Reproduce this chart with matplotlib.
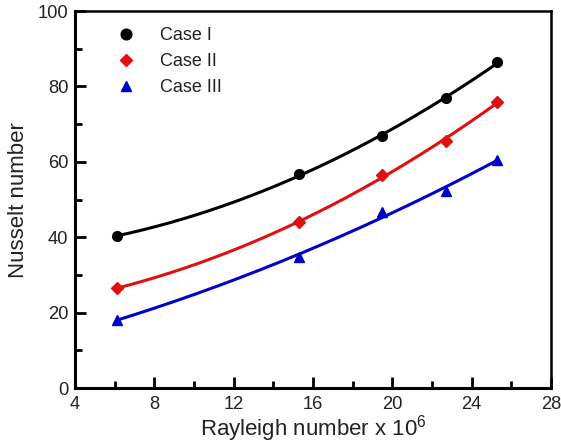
import numpy as np
import matplotlib
matplotlib.use("Agg")
import matplotlib.pyplot as plt
from matplotlib.ticker import MultipleLocator

plt.rcParams["font.family"] = ["Liberation Sans", "DejaVu Sans"]
plt.rcParams["mathtext.fontset"] = "custom"
plt.rcParams["mathtext.rm"] = "Liberation Sans"
plt.rcParams["mathtext.it"] = "Liberation Sans"

# Data (Rayleigh number x 10^6 vs Nusselt number)
rayleigh = [6.1, 15.3, 19.5, 22.7, 25.3]
case1 = [40.3, 56.7, 66.9, 77.0, 86.4]
case2 = [26.5, 44.0, 56.5, 65.6, 75.9]
case3 = [18.1, 34.7, 46.8, 52.4, 60.6]

labels = ["Case I", "Case II", "Case III"]
colors = ["#000000", "#e01010", "#0000c8"]
markers = ["o", "D", "^"]
msizes = [7, 6, 7]
txt = "#222222"

fig = plt.figure(figsize=(5.61, 4.43), dpi=100)
ax = fig.add_axes([0.134, 0.124, 0.848, 0.851])

x = np.array(rayleigh)
xs = np.linspace(x.min(), x.max(), 200)
for ys, lab, c, m, ms in zip([case1, case2, case3], labels, colors, markers, msizes):
    # quadratic trend line through the points
    coef = np.polyfit(x, ys, 2)
    ax.plot(xs, np.polyval(coef, xs), color=c, lw=2.2, zorder=2)
    ax.plot(x, ys, ls="none", marker=m, color=c, ms=ms, label=lab, zorder=3)

ax.set_xlim(4, 28)
ax.set_ylim(0, 100)
ax.xaxis.set_major_locator(MultipleLocator(4))
ax.xaxis.set_minor_locator(MultipleLocator(2))
ax.yaxis.set_major_locator(MultipleLocator(20))
ax.yaxis.set_minor_locator(MultipleLocator(10))
ax.tick_params(which="both", direction="in", width=2, labelsize=13.2,
               pad=6, labelcolor=txt)
ax.tick_params(which="major", length=8)
ax.tick_params(which="minor", length=5)
ax.tick_params(axis="y", pad=5)
for sp in ["left", "bottom"]:
    ax.spines[sp].set_linewidth(2.2)
for sp in ["right", "top"]:
    ax.spines[sp].set_linewidth(1.8)

ax.set_xlabel("Rayleigh number x 10$^{6}$", fontsize=16, labelpad=0, color=txt)
ax.set_ylabel("Nusselt number", fontsize=16, labelpad=6, color=txt)

leg = ax.legend(loc="upper left", frameon=False, fontsize=13,
                bbox_to_anchor=(0.035, 1.0), handletextpad=0.9,
                labelspacing=0.5, markerscale=1.1)
for t in leg.get_texts():
    t.set_color(txt)

fig.savefig("out.png", dpi=100)
